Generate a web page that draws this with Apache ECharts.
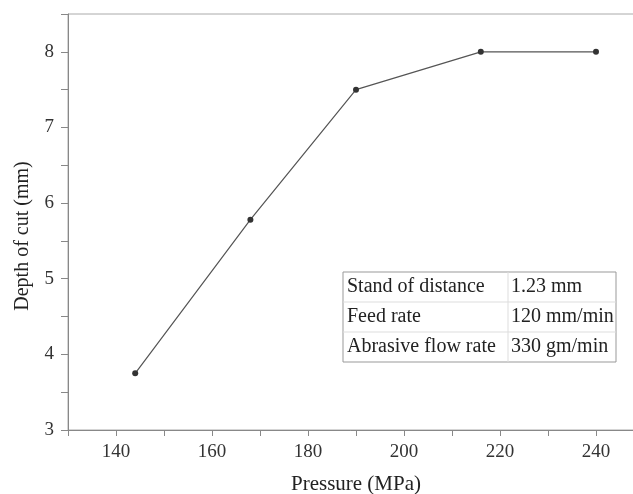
<!DOCTYPE html>
<html>
<head>
<meta charset="utf-8">
<script src="https://cdn.jsdelivr.net/npm/echarts@6/dist/echarts.min.js"></script>
<style>
  html, body { margin: 0; padding: 0; background: #fff; }
  #chart { width: 633px; height: 494px; }
</style>
</head>
<body>
<div id="chart"></div>
<script>
// data
const pressure = [144, 168, 190, 216, 240];
const depth = [3.75, 5.78, 7.5, 8, 8];

// process parameters shown in the inset table
const paramNames = ["Stand of distance", "Feed rate", "Abrasive flow rate"];
const paramValues = ["1.23 mm", "120 mm/min", "330 gm/min"];

const serif = "'Liberation Serif', 'Times New Roman', serif";
const chart = echarts.init(document.getElementById("chart"));

// inset table drawn with graphic elements
const tbl = { left: 343, top: 272, w: 273, h: 90, col: 165 };
const rowH = tbl.h / paramNames.length;
const tableGraphics = [
  {
    type: "rect",
    shape: { x: tbl.left, y: tbl.top, width: tbl.w, height: tbl.h },
    style: { fill: "#fff", stroke: "#999", lineWidth: 1 },
    z: 10
  },
  {
    type: "line",
    shape: { x1: tbl.left + tbl.col, y1: tbl.top, x2: tbl.left + tbl.col, y2: tbl.top + tbl.h },
    style: { stroke: "#ddd", lineWidth: 1 },
    z: 11
  }
];
paramNames.forEach((name, i) => {
  if (i > 0) {
    tableGraphics.push({
      type: "line",
      shape: { x1: tbl.left, y1: tbl.top + i * rowH, x2: tbl.left + tbl.w, y2: tbl.top + i * rowH },
      style: { stroke: "#ddd", lineWidth: 1 },
      z: 11
    });
  }
  const cy = tbl.top + i * rowH + rowH / 2;
  tableGraphics.push({
    type: "text",
    style: { text: name, x: tbl.left + 4, y: cy, font: "20px " + serif, fill: "#222", verticalAlign: "middle" },
    z: 12
  });
  tableGraphics.push({
    type: "text",
    style: { text: paramValues[i], x: tbl.left + tbl.col + 3, y: cy, font: "20px " + serif, fill: "#222", verticalAlign: "middle" },
    z: 12
  });
});

chart.setOption({
  animation: false,
  backgroundColor: "#fff",
  grid: {
    left: 68, width: 576, top: 14, bottom: 64,
    outerBoundsMode: "none",
    containLabel: false,
    show: true, borderColor: "#aaa", borderWidth: 1
  },
  xAxis: {
    type: "value",
    min: 130, max: 250, interval: 10,
    name: "Pressure (MPa)",
    nameLocation: "middle",
    nameGap: 44,
    nameTextStyle: { fontFamily: serif, fontSize: 21, color: "#222" },
    axisLine: { show: true, lineStyle: { color: "#888" } },
    axisTick: { show: true, inside: false, length: 6, lineStyle: { color: "#888" } },
    axisLabel: {
      fontFamily: serif, fontSize: 19, color: "#333", margin: 13,
      formatter: v => (v % 20 === 0 && v < 250 ? String(v) : "")
    },
    splitLine: { show: false }
  },
  yAxis: {
    type: "value",
    min: 3, max: 8.5, interval: 0.5,
    name: "Depth of cut (mm)",
    nameLocation: "middle",
    nameGap: 35,
    nameTextStyle: { fontFamily: serif, fontSize: 20, color: "#222", padding: [0, 28, 0, 0] },
    axisLine: { show: true, lineStyle: { color: "#888" } },
    axisTick: { show: true, inside: false, length: 7, lineStyle: { color: "#888" } },
    axisLabel: {
      fontFamily: serif, fontSize: 19, color: "#333", margin: 14,
      formatter: v => (v % 1 === 0 ? String(v) : "")
    },
    splitLine: { show: false }
  },
  series: [
    {
      type: "line",
      data: pressure.map((p, i) => [p, depth[i]]),
      symbol: "circle",
      symbolSize: 6,
      lineStyle: { color: "#555", width: 1.2 },
      itemStyle: { color: "#333" }
    }
  ],
  graphic: tableGraphics
});
</script>
</body>
</html>
